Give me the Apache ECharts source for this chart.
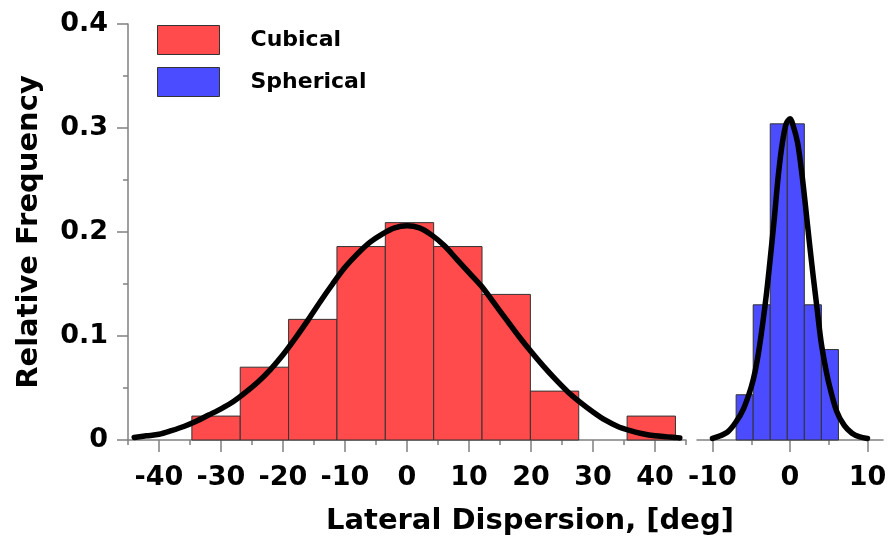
<!DOCTYPE html>
<html><head><meta charset="utf-8">
<script src="https://cdn.jsdelivr.net/npm/echarts@6/dist/echarts.min.js"></script>
<style>html,body{margin:0;padding:0;background:#fff}#c{width:890px;height:539px}</style>
</head><body><div id="c"></div>
<script>
// ---- data ----
const cubicalEdges = [-34.7, -26.9, -19.1, -11.3, -3.5, 4.3, 12.1, 19.9, 27.7, 35.5, 43.3];
const cubicalFreq = [0.023, 0.070, 0.116, 0.186, 0.209, 0.186, 0.140, 0.047, 0, 0.023];
const sphericalEdges = [-6.95, -4.75, -2.55, -0.35, 1.85, 4.05, 6.25];
const sphericalFreq = [0.0435, 0.130, 0.304, 0.304, 0.130, 0.087];

const cubicalFitX = [-44, -42, -40, -38, -36, -34, -32, -30, -28, -26, -24, -22, -20, -18, -16, -14, -12, -10, -8, -6, -4, -2, 0,
  2, 4, 6, 8, 10, 12, 14, 16, 18, 20, 22, 24, 26, 28, 30, 32, 34, 36, 38, 40, 42, 44];
const cubicalFitY = [0.0025, 0.004, 0.0055, 0.009, 0.013, 0.018, 0.024, 0.030, 0.037, 0.046, 0.056, 0.068, 0.082, 0.098, 0.115, 0.133, 0.150, 0.166, 0.179, 0.190, 0.198, 0.204, 0.206,
  0.204, 0.197, 0.187, 0.174, 0.161, 0.148, 0.132, 0.116, 0.100, 0.085, 0.071, 0.058, 0.046, 0.036, 0.027, 0.019, 0.013, 0.009, 0.006, 0.004, 0.003, 0.002];
const sphericalFitX = [-10, -9, -8, -7, -6, -5, -4.5, -4, -3.5, -3, -2.5, -2, -1.5, -1, -0.5, 0,
  0.5, 1, 1.5, 2, 2.5, 3, 3.5, 4, 4.5, 5, 6, 7, 8, 9, 10];
const sphericalFitY = [0.0015, 0.004, 0.008, 0.017, 0.030, 0.051, 0.066, 0.087, 0.113, 0.143, 0.178, 0.215, 0.255, 0.285, 0.304, 0.309,
  0.300, 0.285, 0.258, 0.225, 0.190, 0.157, 0.126, 0.095, 0.073, 0.055, 0.028, 0.014, 0.0065, 0.003, 0.0015];

const cubicalMajorTicks = [-40, -30, -20, -10, 0, 10, 20, 30, 40];
const cubicalMinorTicks = [-45, -35, -25, -15, -5, 5, 15, 25, 35, 45];
const sphericalMajorTicks = [-10, 0, 10];
const sphericalMinorTicks = [-5, 5];
const seriesNames = ['Cubical', 'Spherical'];
const xTitle = 'Lateral Dispersion, [deg]';
const yTitle = 'Relative Frequency';

// ---- styling ----
const FONT = 'DejaVu Sans';
const AXIS_COLOR = '#808080';
const RED = '#ff4b4b';
const BLUE = '#4b4bff';
const EDGE = '#333333';

function histData(edges, freq) {
  return freq.map((v, i) => [edges[i], edges[i + 1], v]);
}
function zip(xs, ys) { return xs.map((x, i) => [x, ys[i]]); }

function renderBin(color) {
  return function (params, api) {
    const x0 = api.value(0), x1 = api.value(1), v = api.value(2);
    if (!(v > 0)) return { type: 'group', children: [] };
    const p0 = api.coord([x0, v]);
    const p1 = api.coord([x1, 0]);
    return {
      type: 'rect',
      shape: { x: p0[0], y: p0[1], width: p1[0] - p0[0], height: p1[1] - p0[1] },
      style: { fill: color, stroke: EDGE, lineWidth: 1 }
    };
  };
}

const labelStyle = { fontFamily: FONT, fontWeight: 'bold', fontSize: 27, color: '#000' };

function majorX(grid, min, max, ticks) {
  return {
    gridIndex: grid, type: 'value', min: min, max: max, position: 'bottom',
    axisLine: { show: true, onZero: false, lineStyle: { color: AXIS_COLOR, width: 1.5 } },
    axisTick: { show: true, customValues: ticks, length: 12, lineStyle: { color: AXIS_COLOR, width: 1.5 } },
    axisLabel: Object.assign({ customValues: ticks, margin: 24 }, labelStyle),
    splitLine: { show: false }
  };
}
function minorX(grid, min, max, ticks) {
  return {
    gridIndex: grid, type: 'value', min: min, max: max, position: 'bottom',
    axisLine: { show: false, onZero: false },
    axisTick: { show: true, customValues: ticks, length: 5, lineStyle: { color: AXIS_COLOR, width: 1.5 } },
    axisLabel: { show: false, customValues: ticks },
    splitLine: { show: false }
  };
}

const chart = echarts.init(document.getElementById('c'), null, { renderer: 'canvas' });
chart.setOption({
  animation: false,
  backgroundColor: '#fff',
  grid: [
    { left: 128, top: 24, width: 558, height: 416 },
    { left: 697, top: 24, width: 186, height: 416 }
  ],
  xAxis: [
    majorX(0, -45, 45, cubicalMajorTicks),
    minorX(0, -45, 45, cubicalMinorTicks),
    majorX(1, -12, 12, sphericalMajorTicks),
    minorX(1, -12, 12, sphericalMinorTicks)
  ],
  yAxis: [
    {
      gridIndex: 0, type: 'value', min: 0, max: 0.4, interval: 0.1, position: 'left',
      name: yTitle, nameLocation: 'middle', nameGap: 84,
      nameTextStyle: { fontFamily: FONT, fontWeight: 'bold', fontSize: 29, color: '#000' },
      axisLine: { show: true, onZero: false, lineStyle: { color: AXIS_COLOR, width: 1.5 } },
      axisTick: { show: true, length: 11, lineStyle: { color: AXIS_COLOR, width: 1.5 } },
      minorTick: { show: true, splitNumber: 2, length: 5, lineStyle: { color: AXIS_COLOR, width: 1.5 } },
      axisLabel: Object.assign({ margin: 20 }, labelStyle),
      splitLine: { show: false }
    },
    { gridIndex: 1, type: 'value', min: 0, max: 0.4, show: false }
  ],
  legend: {
    data: seriesNames,
    orient: 'vertical', left: 157, top: 25, padding: 0,
    itemWidth: 62, itemHeight: 29, itemGap: 12, icon: 'rect',
    selectedMode: false,
    itemStyle: { borderColor: EDGE, borderWidth: 1 },
    textStyle: { fontFamily: FONT, fontWeight: 'bold', fontSize: 22, color: '#000', padding: [0, 0, 0, 26] }
  },
  graphic: [{
    type: 'text', x: 530, y: 521,
    style: { text: xTitle, fontFamily: FONT, fontWeight: 'bold', fontSize: 29, fill: '#000', textAlign: 'center', textVerticalAlign: 'middle' }
  }],
  series: [
    {
      name: seriesNames[0], type: 'custom', xAxisIndex: 0, yAxisIndex: 0,
      itemStyle: { color: RED, borderColor: EDGE, borderWidth: 1 },
      encode: { x: [0, 1], y: 2 },
      renderItem: renderBin(RED),
      data: histData(cubicalEdges, cubicalFreq), z: 2
    },
    {
      name: seriesNames[1], type: 'custom', xAxisIndex: 2, yAxisIndex: 1,
      itemStyle: { color: BLUE, borderColor: EDGE, borderWidth: 1 },
      encode: { x: [0, 1], y: 2 },
      renderItem: renderBin(BLUE),
      data: histData(sphericalEdges, sphericalFreq), z: 2
    },
    {
      name: 'Cubical fit', type: 'line', xAxisIndex: 0, yAxisIndex: 0,
      data: zip(cubicalFitX, cubicalFitY), smooth: 0.3, showSymbol: false, clip: false,
      lineStyle: { color: '#000', width: 5.5, cap: 'round', join: 'round' }, z: 5
    },
    {
      name: 'Spherical fit', type: 'line', xAxisIndex: 2, yAxisIndex: 1,
      data: zip(sphericalFitX, sphericalFitY), smooth: 0.3, showSymbol: false, clip: false,
      lineStyle: { color: '#000', width: 5.5, cap: 'round', join: 'round' }, z: 5
    }
  ]
});
</script>
</body></html>
